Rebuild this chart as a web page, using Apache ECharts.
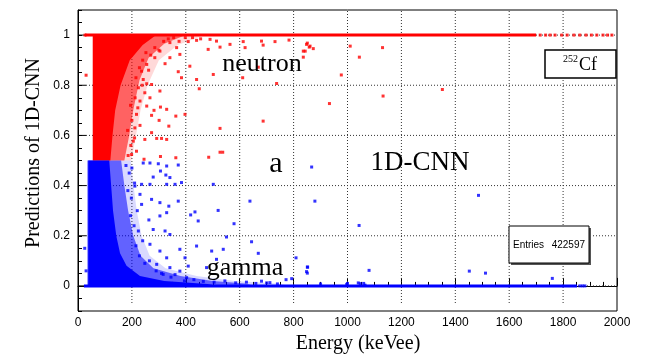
<!DOCTYPE html>
<html>
<head>
<meta charset="utf-8">
<script src="https://cdn.jsdelivr.net/npm/echarts@6/dist/echarts.min.js"></script>
<style>
  html, body { margin: 0; padding: 0; background: #fff; }
  #chart { width: 654px; height: 359px; }
</style>
</head>
<body>
<div id="chart"></div>
<script>
// axis ticks
const xMajor = [200, 400, 600, 800, 1000, 1200, 1400, 1600, 1800]
const yMajor = [0, 0.2, 0.4, 0.6, 0.8, 1]

// dense regions (outlines in data units)
const redFade = [[55, 0.5], [55, 1], [470, 1], [370, 0.96], [300, 0.9], [258, 0.8], [232, 0.7], [215, 0.6], [198, 0.5]]
const redHalo = [[55, 0.5], [55, 1], [400, 1], [320, 0.965], [262, 0.91], [228, 0.82], [205, 0.7], [190, 0.6], [172, 0.5]]
const redCore = [[55, 0.5], [55, 1], [290, 1], [240, 0.96], [192, 0.9], [158, 0.8], [138, 0.7], [128, 0.6], [120, 0.5]]
const blueFade = [[35, 0], [35, 0.5], [196, 0.5], [206, 0.4], [218, 0.3], [236, 0.2], [266, 0.12], [325, 0.07], [440, 0.04], [580, 0.02], [740, 0.01], [790, 0]]
const blueHalo = [[35, 0], [35, 0.5], [160, 0.5], [172, 0.4], [186, 0.3], [205, 0.2], [232, 0.12], [280, 0.07], [380, 0.04], [500, 0.02], [620, 0.01], [660, 0]]
const blueCore = [[38, 0], [38, 0.5], [116, 0.5], [123, 0.4], [130, 0.3], [142, 0.2], [156, 0.13], [180, 0.08], [230, 0.04], [320, 0.02], [480, 0.008], [520, 0]]

// the two saturated bands
const redLine = [[26, 1], [1700, 1]]
const redTail = [[1715, 1], [1735, 1], [1752, 1], [1770, 1], [1795, 1], [1815, 1], [1840, 1], [1862, 1], [1885, 1], [1905, 1], [1925, 1], [1948, 1], [1965, 1], [1981, 1]]
const blueLine = [[22, 0], [1852, 0]]
const blueTail = [[1862, 0], [1872, 0], [1881, 0]]

// isolated points
const redPoints = [
  [26, 1], [30, 0.84], [323, 0.886], [372, 0.854], [384, 0.83], [440, 0.823], [450, 0.786], [502, 0.843],
  [415, 0.876], [304, 0.777], [273, 0.803], [255, 0.806], [267, 0.75], [329, 0.704], [306, 0.713],
  [282, 0.7], [301, 0.66], [273, 0.68], [255, 0.717], [337, 0.637], [363, 0.677], [397, 0.684],
  [273, 0.611], [248, 0.584], [292, 0.588], [310, 0.588], [329, 0.584], [527, 0.628], [687, 0.657],
  [737, 0.807], [611, 0.83], [669, 0.872], [527, 0.533], [537, 0.533], [485, 0.513], [363, 0.511],
  [306, 0.516], [245, 0.505], [836, 0.936], [848, 0.963], [858, 0.952], [783, 0.98], [731, 0.974],
  [409, 0.974], [440, 0.979], [490, 0.983], [514, 0.976], [483, 0.943], [527, 0.952], [564, 0.963],
  [613, 0.974], [620, 0.95], [681, 0.976], [687, 0.96], [341, 0.97], [366, 0.95], [378, 0.923],
  [341, 0.91], [304, 0.936], [285, 0.91], [255, 0.883], [236, 0.856], [242, 0.823], [224, 0.79],
  [230, 0.737], [217, 0.684], [211, 0.63], [205, 0.577], [217, 0.537], [199, 0.524],
  [836, 0.912], [843, 0.936], [851, 0.968], [861, 0.956], [873, 0.946], [1010, 0.956], [1044, 0.912],
  [977, 0.841], [1130, 0.95], [933, 0.727], [1132, 0.757], [1352, 0.783],
  [186, 0.52], [196, 0.56], [184, 0.62], [200, 0.66], [195, 0.72], [212, 0.75], [222, 0.71],
  [215, 0.83], [228, 0.87], [238, 0.8], [240, 0.9], [252, 0.93], [270, 0.92], [285, 0.95],
  [300, 0.94], [318, 0.975], [335, 0.985], [355, 0.99], [375, 0.975], [398, 0.99], [425, 0.99],
  [455, 0.985], [210, 0.59], [230, 0.64], [248, 0.77], [262, 0.86]
]
const bluePoints = [
  [242, 0.49], [267, 0.49], [298, 0.487], [329, 0.478], [372, 0.482], [279, 0.434], [306, 0.458],
  [326, 0.442], [341, 0.432], [384, 0.412], [360, 0.405], [329, 0.405], [267, 0.405], [236, 0.405],
  [211, 0.398], [502, 0.405], [638, 0.338], [867, 0.474], [879, 0.338], [520, 0.301], [434, 0.295],
  [418, 0.283], [372, 0.338], [337, 0.318], [304, 0.332], [273, 0.345], [230, 0.365], [236, 0.325],
  [304, 0.279], [329, 0.292], [263, 0.263], [279, 0.225], [224, 0.219], [323, 0.219], [341, 0.205],
  [446, 0.259], [579, 0.248], [551, 0.195], [644, 0.176], [669, 0.13], [539, 0.146], [514, 0.106],
  [496, 0.139], [440, 0.159], [397, 0.112], [378, 0.146], [329, 0.112], [304, 0.139], [267, 0.166],
  [809, 0.112], [852, 0.075], [848, 0.057], [772, 0.025], [793, 0.029], [681, 0.019], [712, 0.013],
  [477, 0.073], [409, 0.079], [341, 0.073], [378, 0.059], [316, 0.046], [292, 0.086], [403, 0.033],
  [1043, 0.241], [1486, 0.361], [851, 0.075], [851, 0.051], [1080, 0.062], [1452, 0.059],
  [1512, 0.051], [1760, 0.03], [997, 0.006], [1047, 0.009], [1065, 0.003], [25, 0.15], [30, 0.06],
  [178, 0.48], [190, 0.45], [200, 0.47], [185, 0.38], [198, 0.35], [210, 0.41], [195, 0.28],
  [208, 0.24], [220, 0.3], [215, 0.16], [228, 0.12], [240, 0.18], [248, 0.09], [265, 0.1],
  [290, 0.06], [310, 0.05], [345, 0.035], [360, 0.045], [395, 0.02], [430, 0.025], [465, 0.018],
  [505, 0.015], [545, 0.02], [585, 0.012], [625, 0.015], [660, 0.01], [700, 0.012], [740, 0.008],
  [900, 0.008], [1000, 0.01], [1040, 0.012], [1060, 0.01]
]

const chart = echarts.init(document.getElementById('chart'), null, { renderer: 'canvas' })

const polygonSeries = (pts, color, z) => ({
  type: 'custom',
  z,
  silent: true,
  clip: true,
  data: pts,
  encode: { x: 0, y: 1 },
  renderItem: (params, api) => {
    if (params.dataIndex !== 0) return null
    return {
      type: 'polygon',
      shape: { points: pts.map(p => api.coord(p)) },
      style: { fill: color }
    }
  }
})

const dots = (data, color, z) => ({
  type: 'scatter',
  data,
  symbol: 'rect',
  symbolSize: 3,
  itemStyle: { color },
  silent: true,
  z
})

const band = (data, color, z) => ({
  type: 'line',
  data,
  symbol: 'none',
  lineStyle: { color, width: 3 },
  silent: true,
  z
})

// dotted grid at the major ticks plus the long major ticks on the left axis
const gridSeries = {
  type: 'custom',
  z: 1,
  silent: true,
  clip: false,
  data: [...yMajor.map(v => ['y', v]), ...xMajor.map(v => ['x', v])],
  renderItem: (params, api) => {
    const item = params.dataIndex < yMajor.length
      ? ['y', yMajor[params.dataIndex]]
      : ['x', xMajor[params.dataIndex - yMajor.length]]
    const dotted = { stroke: '#333', lineWidth: 1, lineDash: [1, 2] }
    if (item[0] === 'y') {
      const a = api.coord([0, item[1]])
      const b = api.coord([2000, item[1]])
      return {
        type: 'group',
        children: [
          { type: 'line', shape: { x1: a[0] + 8, y1: a[1], x2: b[0], y2: b[1] }, style: dotted },
          { type: 'line', shape: { x1: a[0], y1: a[1], x2: a[0] + 8, y2: a[1] }, style: { stroke: '#000', lineWidth: 1 } }
        ]
      }
    }
    const a = api.coord([item[1], -0.1])
    const b = api.coord([item[1], 1.1])
    return { type: 'line', shape: { x1: a[0], y1: a[1] - 8, x2: b[0], y2: b[1] }, style: dotted }
  }
}

const serif = '"Liberation Serif", "Times New Roman", serif'
const sans = '"Liberation Sans", Arial, sans-serif'

const yLabel = v => {
  const k = Math.round(v * 5)
  if (Math.abs(v * 5 - k) > 1e-6 || k < 0 || k > 5) return ''
  return String(+(k * 0.2).toFixed(1))
}

const option = {
  backgroundColor: '#fff',
  animation: false,
  grid: {
    left: 78, right: 37, top: 10, bottom: 48,
    show: true, borderColor: '#000', borderWidth: 1
  },
  xAxis: {
    type: 'value',
    min: 0, max: 2000, interval: 200,
    axisLine: { lineStyle: { color: '#000', width: 1 } },
    axisTick: { inside: true, length: 8, lineStyle: { color: '#000' } },
    minorTick: { show: true, splitNumber: 4, length: 4, lineStyle: { color: '#000' } },
    axisLabel: { color: '#000', fontSize: 12, fontFamily: sans, margin: 6, formatter: v => String(v) },
    splitLine: { show: false }
  },
  yAxis: {
    type: 'value',
    min: -0.1, max: 1.1, interval: 0.05,
    axisLine: { show: true, lineStyle: { color: '#000', width: 1 } },
    axisTick: { inside: true, length: 4, lineStyle: { color: '#000' } },
    axisLabel: { color: '#000', fontSize: 12, fontFamily: sans, margin: 8, formatter: yLabel },
    splitLine: { show: false }
  },
  series: [
    gridSeries,
    polygonSeries(redFade, 'rgba(255,0,0,0.15)', 2),
    polygonSeries(blueFade, 'rgba(0,0,255,0.15)', 2),
    polygonSeries(redHalo, 'rgba(255,0,0,0.55)', 2),
    polygonSeries(blueHalo, 'rgba(0,0,255,0.55)', 2),
    polygonSeries(redCore, '#ff0000', 3),
    polygonSeries(blueCore, '#0000ff', 3),
    dots(redPoints, '#ff0000', 4),
    dots(bluePoints, '#0000ff', 4),
    band(redLine, '#ff0000', 5),
    dots(redTail, '#ff0000', 5),
    band(blueLine, '#0000ff', 5),
    dots(blueTail, '#0000ff', 5)
  ],
  graphic: [
    { type: 'text', x: 34, y: 153, rotation: Math.PI / 2,
      style: { text: 'Predictions of 1D-CNN', font: '20px ' + serif, fill: '#000', textAlign: 'center', textVerticalAlign: 'middle' } },
    { type: 'text', x: 358, y: 344,
      style: { text: 'Energy (keVee)', font: '20px ' + serif, fill: '#000', textAlign: 'center', textVerticalAlign: 'middle' } },
    { type: 'text', x: 262, y: 64, z: 10,
      style: { text: 'neutron', font: '26px ' + serif, fill: '#000', textAlign: 'center', textVerticalAlign: 'middle' } },
    { type: 'text', x: 276, y: 164, z: 10,
      style: { text: 'a', font: '30px ' + serif, fill: '#000', textAlign: 'center', textVerticalAlign: 'middle' } },
    { type: 'text', x: 420, y: 163, z: 10,
      style: { text: '1D-CNN', font: '27px ' + serif, fill: '#000', textAlign: 'center', textVerticalAlign: 'middle' } },
    { type: 'text', x: 245, y: 268, z: 10,
      style: { text: 'gamma', font: '26px ' + serif, fill: '#000', textAlign: 'center', textVerticalAlign: 'middle' } },
    { type: 'rect', z: 10, shape: { x: 545, y: 50, width: 71, height: 28 },
      style: { fill: '#fff', stroke: '#000', lineWidth: 1.5 } },
    { type: 'text', x: 563, y: 59, z: 11,
      style: { text: '252', font: '10px ' + serif, fill: '#000', textAlign: 'left', textVerticalAlign: 'middle' } },
    { type: 'text', x: 579, y: 65, z: 11,
      style: { text: 'Cf', font: '18px ' + serif, fill: '#000', textAlign: 'left', textVerticalAlign: 'middle' } },
    { type: 'rect', z: 10, shape: { x: 511, y: 228, width: 80, height: 37 },
      style: { fill: '#555' } },
    { type: 'rect', z: 10, shape: { x: 509, y: 226, width: 80, height: 37 },
      style: { fill: '#fff', stroke: '#000', lineWidth: 1 } },
    { type: 'text', x: 513, y: 245, z: 11,
      style: { text: 'Entries', font: '10px ' + sans, fill: '#000', textAlign: 'left', textVerticalAlign: 'middle' } },
    { type: 'text', x: 585, y: 245, z: 11,
      style: { text: '422597', font: '10px ' + sans, fill: '#000', textAlign: 'right', textVerticalAlign: 'middle' } }
  ]
}

chart.setOption(option)
</script>
</body>
</html>
